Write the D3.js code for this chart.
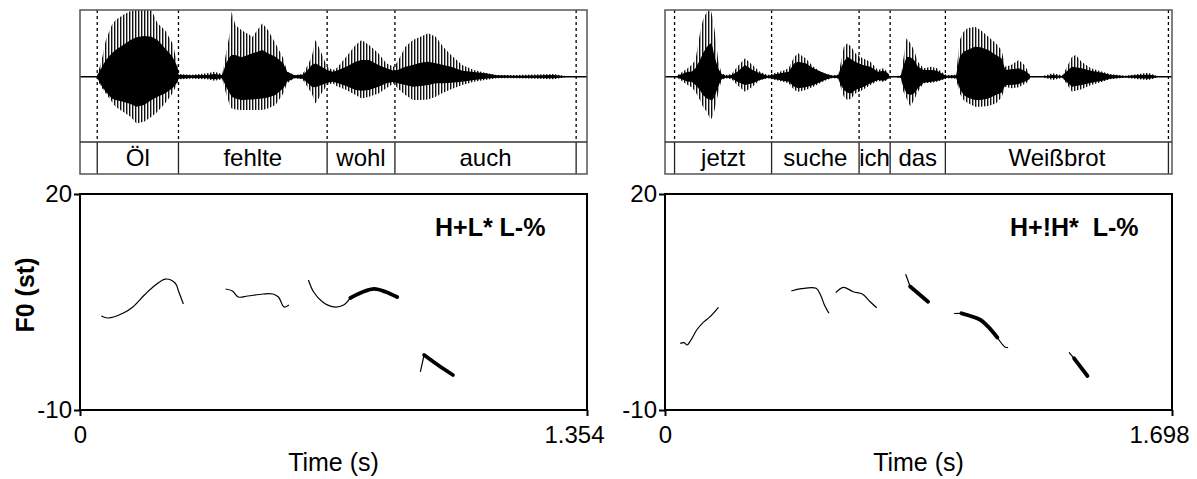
<!DOCTYPE html>
<html>
<head>
<meta charset="utf-8">
<script src="https://cdn.jsdelivr.net/npm/d3@7"></script>
<style>
  body { margin: 0; background: #fff; }
  svg { display: block; font-family: Arial, "Liberation Sans", sans-serif; }
</style>
</head>
<body>
<svg width="1197" height="479"></svg>
<script>
// ---- data ----
// waveform rows: [time (s), outer top, core top, core bottom, outer bottom] (relative amplitude)
const leftWave = [
  [0,0,0,0,0],[0.044,0,0,0,0],[0.049,0.075,0.05,-0.05,-0.075],[0.059,0.275,0.15,-0.15,-0.175],
  [0.069,0.55,0.25,-0.225,-0.25],[0.085,0.775,0.35,-0.325,-0.375],[0.095,0.85,0.40,-0.35,-0.45],
  [0.115,0.925,0.475,-0.375,-0.525],[0.135,0.985,0.55,-0.41,-0.60],[0.151,1.0,0.59,-0.45,-0.70],
  [0.171,1.0,0.61,-0.425,-0.675],[0.191,1.0,0.60,-0.35,-0.60],[0.207,0.80,0.55,-0.30,-0.525],
  [0.227,0.70,0.425,-0.25,-0.40],[0.247,0.50,0.30,-0.175,-0.25],[0.258,0.25,0.175,-0.10,-0.125],
  [0.263,0.04,0.03,-0.03,-0.04],[0.298,0.03,0.02,-0.02,-0.03],[0.339,0.05,0.025,-0.025,-0.04],
  [0.359,0.075,0.04,-0.04,-0.06],[0.380,0.04,0.025,-0.025,-0.04],[0.390,0.35,0.20,-0.15,-0.25],
  [0.400,0.65,0.30,-0.25,-0.425],[0.405,0.975,0.325,-0.30,-0.475],[0.415,0.775,0.325,-0.325,-0.49],
  [0.431,0.70,0.29,-0.35,-0.50],[0.461,0.60,0.35,-0.34,-0.50],[0.487,0.80,0.40,-0.325,-0.50],
  [0.502,0.70,0.35,-0.31,-0.475],[0.522,0.50,0.30,-0.275,-0.425],[0.543,0.275,0.20,-0.175,-0.25],
  [0.553,0.075,0.075,-0.075,-0.10],[0.573,0.025,0.02,-0.02,-0.025],[0.594,0.04,0.03,-0.03,-0.04],
  [0.604,0.125,0.075,-0.075,-0.125],[0.619,0.30,0.175,-0.15,-0.25],[0.629,0.55,0.20,-0.16,-0.40],
  [0.645,0.35,0.15,-0.125,-0.25],[0.660,0.15,0.10,-0.09,-0.125],[0.675,0.10,0.075,-0.075,-0.10],
  [0.685,0.125,0.09,-0.09,-0.14],[0.711,0.30,0.15,-0.14,-0.20],[0.736,0.475,0.225,-0.20,-0.275],
  [0.752,0.55,0.25,-0.21,-0.325],[0.772,0.475,0.25,-0.20,-0.30],[0.797,0.35,0.175,-0.15,-0.25],
  [0.818,0.20,0.125,-0.10,-0.175],[0.838,0.15,0.09,-0.075,-0.10],[0.848,0.225,0.10,-0.10,-0.175],
  [0.869,0.45,0.15,-0.125,-0.275],[0.889,0.55,0.175,-0.15,-0.35],[0.909,0.60,0.21,-0.14,-0.35],
  [0.930,0.65,0.225,-0.125,-0.34],[0.950,0.60,0.20,-0.10,-0.30],[0.970,0.45,0.175,-0.10,-0.24],
  [0.991,0.325,0.15,-0.09,-0.19],[1.021,0.175,0.09,-0.075,-0.125],[1.052,0.10,0.07,-0.05,-0.075],
  [1.082,0.06,0.05,-0.03,-0.05],[1.113,0.025,0.02,-0.015,-0.025],[1.164,0.025,0.015,-0.015,-0.025],
  [1.266,0.04,0.025,-0.025,-0.04],[1.296,0.01,0.005,-0.005,-0.01],[1.317,0,0,0,0],[1.354,0,0,0,0]
];
const rightWave = [
  [0,0,0,0,0],[0.038,0.01,0.005,-0.005,-0.01],[0.076,0.125,0.075,-0.075,-0.125],[0.089,0.175,0.075,-0.075,-0.16],
  [0.102,0.25,0.125,-0.125,-0.225],[0.117,0.65,0.25,-0.20,-0.35],[0.127,0.85,0.35,-0.275,-0.45],
  [0.140,0.975,0.45,-0.325,-0.525],[0.153,1.0,0.50,-0.35,-0.65],[0.159,0.90,0.45,-0.35,-0.60],
  [0.166,0.70,0.30,-0.30,-0.50],[0.178,0.25,0.125,-0.15,-0.25],[0.189,0.05,0.04,-0.04,-0.05],
  [0.204,0.025,0.015,-0.015,-0.025],[0.223,0.04,0.025,-0.025,-0.04],[0.242,0.15,0.075,-0.075,-0.125],
  [0.268,0.275,0.175,-0.125,-0.225],[0.293,0.175,0.10,-0.10,-0.15],[0.318,0.075,0.05,-0.05,-0.05],
  [0.344,0.025,0.015,-0.015,-0.025],[0.395,0.09,0.06,-0.06,-0.075],[0.414,0.125,0.075,-0.075,-0.10],
  [0.433,0.30,0.20,-0.15,-0.20],[0.446,0.35,0.225,-0.175,-0.225],[0.471,0.275,0.20,-0.16,-0.20],
  [0.497,0.15,0.125,-0.125,-0.15],[0.522,0.075,0.075,-0.075,-0.09],[0.541,0.04,0.04,-0.04,-0.05],
  [0.561,0.02,0.015,-0.015,-0.02],[0.580,0.03,0.02,-0.02,-0.03],[0.586,0.15,0.10,-0.10,-0.125],
  [0.599,0.45,0.225,-0.20,-0.30],[0.611,0.50,0.30,-0.24,-0.35],[0.624,0.45,0.26,-0.25,-0.325],
  [0.637,0.35,0.225,-0.20,-0.25],[0.662,0.275,0.175,-0.16,-0.20],[0.688,0.225,0.15,-0.10,-0.125],
  [0.713,0.10,0.075,-0.05,-0.065],[0.732,0.125,0.09,-0.06,-0.075],[0.745,0.075,0.06,-0.04,-0.05],
  [0.752,0.01,0.005,-0.005,-0.01],[0.771,0.005,0,0,-0.005],[0.790,0.02,0.015,-0.015,-0.02],
  [0.796,0.20,0.125,-0.125,-0.20],[0.809,0.575,0.30,-0.25,-0.325],[0.822,0.50,0.29,-0.275,-0.45],
  [0.834,0.40,0.25,-0.25,-0.35],[0.847,0.225,0.15,-0.175,-0.225],[0.866,0.125,0.10,-0.09,-0.10],
  [0.892,0.15,0.10,-0.075,-0.09],[0.911,0.125,0.09,-0.065,-0.075],[0.930,0.06,0.04,-0.04,-0.05],
  [0.943,0.025,0.015,-0.015,-0.025],[0.975,0.03,0.02,-0.02,-0.03],[0.987,0.55,0.30,-0.175,-0.25],
  [1.000,0.675,0.375,-0.275,-0.35],[1.013,0.725,0.40,-0.31,-0.39],[1.038,0.75,0.45,-0.35,-0.45],
  [1.057,0.70,0.44,-0.35,-0.45],[1.083,0.60,0.40,-0.325,-0.44],[1.108,0.50,0.325,-0.275,-0.40],
  [1.127,0.40,0.275,-0.24,-0.31],[1.140,0.15,0.10,-0.125,-0.15],[1.159,0.175,0.11,-0.125,-0.175],
  [1.185,0.25,0.125,-0.11,-0.16],[1.204,0.175,0.09,-0.075,-0.11],[1.217,0.075,0.05,-0.05,-0.075],
  [1.223,0.01,0.005,-0.005,-0.01],[1.261,0.005,0,0,-0.005],[1.299,0.05,0.025,-0.025,-0.05],
  [1.331,0.02,0.01,-0.01,-0.02],[1.338,0.075,0.05,-0.05,-0.06],[1.363,0.30,0.15,-0.15,-0.225],
  [1.376,0.325,0.14,-0.14,-0.21],[1.395,0.225,0.125,-0.125,-0.19],[1.427,0.125,0.09,-0.09,-0.125],
  [1.465,0.075,0.06,-0.06,-0.075],[1.490,0.04,0.03,-0.03,-0.04],[1.541,0.015,0.01,-0.01,-0.015],
  [1.586,0.04,0.025,-0.025,-0.04],[1.618,0.06,0.03,-0.03,-0.05],[1.637,0.03,0.02,-0.02,-0.03],
  [1.650,0.005,0,0,-0.005],[1.698,0,0,0,0]
];

// word boundaries (s) and words
const leftBounds = [0.046, 0.263, 0.660, 0.841, 1.325];
const leftWords = ["Öl", "fehlte", "wohl", "auch"];
const rightBounds = [0.032, 0.357, 0.650, 0.754, 0.939, 1.686];
const rightWords = ["jetzt", "suche", "ich", "das", "Weißbrot"];

// F0 contours: [time (s), semitones]
const leftF0Thin = [
  [[0.057,3.06],[0.075,2.78],[0.116,3.47],[0.141,4.31],[0.172,5.97],[0.192,6.94],[0.228,8.19],[0.254,7.64],[0.264,6.39],[0.276,4.72]],
  [[0.389,6.81],[0.407,6.53],[0.423,5.69],[0.448,5.83],[0.489,6.11],[0.515,6.11],[0.530,5.69],[0.545,4.31],[0.558,4.58]],
  [[0.610,8.06],[0.624,6.39],[0.648,5.0],[0.678,4.31],[0.704,4.58],[0.722,5.56]],
  [[0.909,-4.72],[0.919,-2.36]]
];
const leftF0Thick = [
  [[0.722,5.56],[0.755,6.39],[0.786,6.81],[0.817,6.39],[0.847,5.69]],
  [[0.919,-2.36],[0.956,-3.75],[0.996,-5.14]]
];
const rightF0Thin = [
  [[0.051,-0.74],[0.064,-0.65],[0.074,-0.97],[0.087,-0.28],[0.106,1.11],[0.125,2.04],[0.151,2.96],[0.179,4.26]],
  [[0.423,6.53],[0.457,6.85],[0.506,6.90],[0.521,5.97],[0.534,4.58],[0.549,3.43]],
  [[0.572,6.29],[0.597,7.04],[0.630,6.43],[0.661,6.11],[0.687,5.04],[0.709,4.21]],
  [[0.806,8.85],[0.821,7.15]],
  [[0.968,3.40],[0.993,3.43]],
  [[1.113,0.07],[1.140,-1.29],[1.149,-1.29]],
  [[1.353,-2.01],[1.370,-2.82]]
];
const rightF0Thick = [
  [[0.821,7.15],[0.881,5.04]],
  [[0.993,3.43],[1.057,2.5],[1.082,1.57],[1.113,0.07]],
  [[1.370,-2.82],[1.415,-5.28]]
];

const f0Range = [-10, 20];
const leftDuration = 1.354;
const rightDuration = 1.698;
const leftLabel = "H+L* L-%";
const rightLabel = "H+!H*  L-%";

// ---- layout ----
const svg = d3.select("svg");
const waveTop = 10, tierTop = 142, tierBottom = 174;
const f0Top = 194, f0Bottom = 410;

svg.append("defs").append("pattern")
  .attr("id", "spikes")
  .attr("patternUnits", "userSpaceOnUse")
  .attr("width", 3).attr("height", 8)
  .append("rect")
    .attr("width", 1.4).attr("height", 8)
    .attr("fill", "#111");

function drawPanel(p) {
  const x = d3.scaleLinear().domain([0, p.duration]).range([p.x0, p.x1]);
  const yWave = d3.scaleLinear().domain([-1, 1]).range([143.4, waveTop]);
  const yF0 = d3.scaleLinear().domain(f0Range).range([f0Bottom, f0Top]);
  const g = svg.append("g");

  // waveform
  const outer = d3.area().x(d => x(d[0])).y0(d => yWave(d[4])).y1(d => yWave(d[1]));
  const core = d3.area().x(d => x(d[0])).y0(d => yWave(d[3])).y1(d => yWave(d[2]));
  g.append("path").datum(p.wave).attr("d", outer).attr("fill", "url(#spikes)");
  g.append("path").datum(p.wave).attr("d", core).attr("fill", "#000");
  g.append("line")
    .attr("x1", p.x0).attr("x2", p.x1)
    .attr("y1", yWave(0)).attr("y2", yWave(0))
    .attr("stroke", "#000").attr("stroke-width", 1.5);

  // boundaries
  const b = g.append("g").selectAll("g").data(p.bounds).join("g");
  b.append("line")
    .attr("x1", d => x(d)).attr("x2", d => x(d))
    .attr("y1", waveTop).attr("y2", tierTop)
    .attr("stroke", "#000").attr("stroke-width", 1.3)
    .attr("stroke-dasharray", "3,3");
  b.append("line")
    .attr("x1", d => x(d)).attr("x2", d => x(d))
    .attr("y1", tierTop).attr("y2", tierBottom)
    .attr("stroke", "#222").attr("stroke-width", 1.3);

  // box + tier
  g.append("rect")
    .attr("x", p.x0).attr("y", waveTop)
    .attr("width", p.x1 - p.x0).attr("height", tierBottom - waveTop)
    .attr("fill", "none").attr("stroke", "#555").attr("stroke-width", 1.5);
  g.append("line")
    .attr("x1", p.x0).attr("x2", p.x1)
    .attr("y1", tierTop).attr("y2", tierTop)
    .attr("stroke", "#333").attr("stroke-width", 1.5);

  g.append("g").selectAll("text").data(p.words).join("text")
    .attr("x", (d, i) => (x(p.bounds[i]) + x(p.bounds[i + 1])) / 2)
    .attr("y", 166)
    .attr("text-anchor", "middle")
    .attr("font-size", 24)
    .text(d => d);

  // F0 plot
  const line = d3.line().x(d => x(d[0])).y(d => yF0(d[1])).curve(d3.curveCatmullRom);
  g.append("g").selectAll("path").data(p.thin).join("path")
    .attr("d", line).attr("fill", "none").attr("stroke", "#000").attr("stroke-width", 1.2);
  g.append("g").selectAll("path").data(p.thick).join("path")
    .attr("d", line).attr("fill", "none").attr("stroke", "#000")
    .attr("stroke-width", 3.8).attr("stroke-linecap", "round");

  g.append("rect")
    .attr("x", p.x0).attr("y", f0Top)
    .attr("width", p.x1 - p.x0).attr("height", f0Bottom - f0Top)
    .attr("fill", "none").attr("stroke", "#000").attr("stroke-width", 2);

  const yAxis = g.append("g")
    .attr("transform", `translate(${p.x0},0)`)
    .call(d3.axisLeft(yF0).tickValues(f0Range).tickSize(6).tickPadding(2)
      .tickFormat(d => String(d)));
  const xAxis = g.append("g")
    .attr("transform", `translate(0,${f0Bottom})`)
    .call(d3.axisBottom(x).tickValues([0, p.duration]).tickSize(6).tickPadding(10)
      .tickFormat(d => d === 0 ? "0" : d.toFixed(3)));
  [yAxis, xAxis].forEach(a => {
    a.select(".domain").remove();
    a.selectAll("line").attr("stroke-width", 2);
    a.selectAll("text").attr("font-size", 24).attr("font-family", "Arial, 'Liberation Sans', sans-serif");
  });
  xAxis.selectAll(".tick").filter(d => d !== 0).select("text")
    .attr("text-anchor", "end").attr("x", 17);

  g.append("text")
    .attr("x", (p.x0 + p.x1) / 2).attr("y", 471)
    .attr("text-anchor", "middle").attr("font-size", 25)
    .text("Time (s)");

  g.append("text")
    .attr("x", p.labelX).attr("y", 236)
    .attr("font-size", 25).attr("font-weight", "bold")
    .style("white-space", "pre")
    .text(p.label);
}

drawPanel({ x0: 80, x1: 587, duration: leftDuration, wave: leftWave, bounds: leftBounds, words: leftWords,
  thin: leftF0Thin, thick: leftF0Thick, label: leftLabel, labelX: 435 });
drawPanel({ x0: 665, x1: 1172, duration: rightDuration, wave: rightWave, bounds: rightBounds, words: rightWords,
  thin: rightF0Thin, thick: rightF0Thick, label: rightLabel, labelX: 1010 });

svg.append("text")
  .attr("transform", "translate(34,295) rotate(-90)")
  .attr("text-anchor", "middle")
  .attr("font-size", 25).attr("font-weight", "bold")
  .text("F0 (st)");
</script>
</body>
</html>
